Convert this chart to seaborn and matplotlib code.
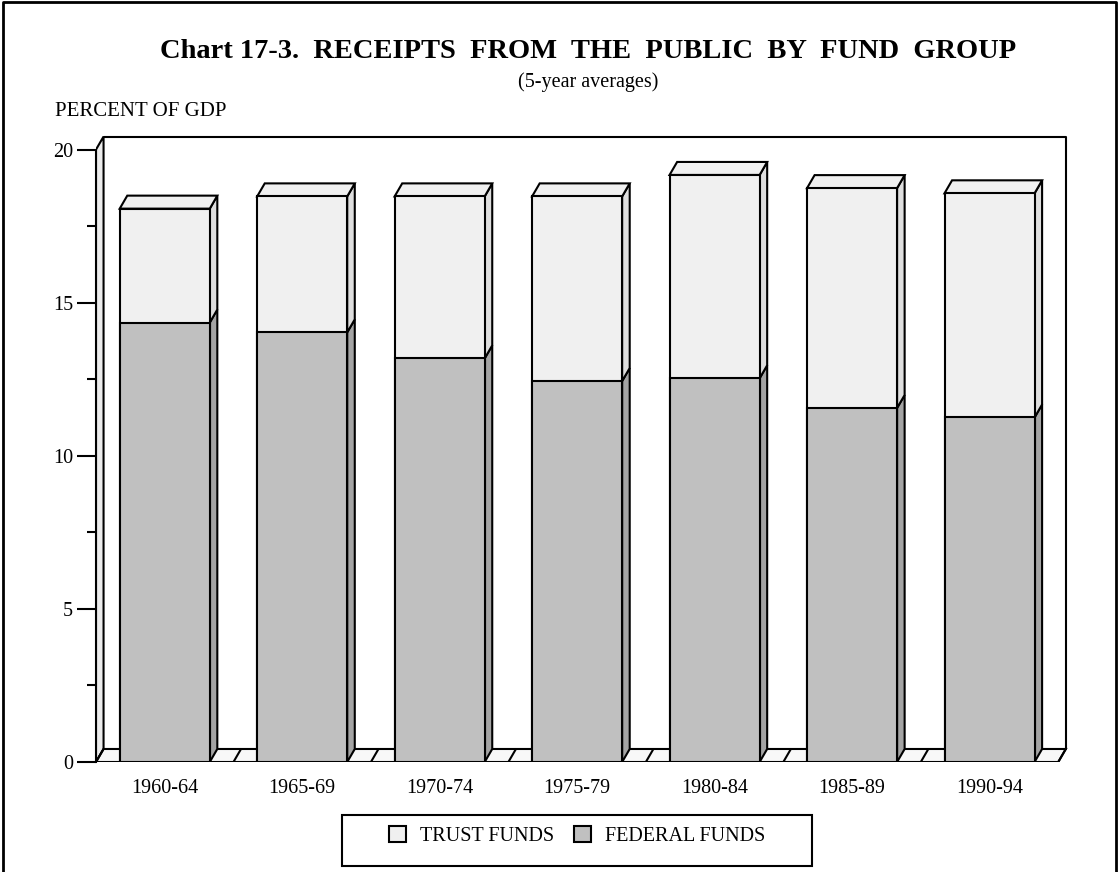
import numpy as np
import pandas as pd
import matplotlib.pyplot as plt
from matplotlib.patches import Polygon, Rectangle, Patch
import seaborn as sns

periods = ['1960-64', '1965-69', '1970-74', '1975-79', '1980-84', '1985-89', '1990-94']
federal = [14.35, 14.03, 13.18, 12.44, 12.53, 11.56, 11.25]
trust = [3.72, 4.44, 5.29, 6.03, 6.64, 7.18, 7.32]

df = pd.DataFrame({'period': periods, 'federal': federal, 'trust': trust})
df['total'] = df['federal'] + df['trust']

sns.set_theme(style='white')
plt.rcParams['font.family'] = ['Liberation Serif', 'DejaVu Serif']
plt.rcParams['text.color'] = 'black'
plt.rcParams['xtick.color'] = 'black'
plt.rcParams['ytick.color'] = 'black'

W, H = 1119, 872
fig = plt.figure(figsize=(W / 100, H / 100), dpi=100)
ax = fig.add_axes([96 / W, (H - 762) / H, (1072 - 96) / W, (762 - 135) / H])

# fake 3d depth, in data units
dx, dy = 0.055, 0.425
lw = 1.5
c_trust, c_trust_side = '#f0f0f0', '#dedede'
c_fed, c_fed_side = '#c0c0c0', '#a4a4a4'

# left wall, back wall, floor
ax.add_patch(Polygon([(-0.5, 0), (-0.5 + dx, dy), (-0.5 + dx, 20 + dy), (-0.5, 20)],
                     closed=True, fc='#ececec', ec='black', lw=lw, zorder=1))
ax.add_patch(Polygon([(-0.5, 0), (6.5, 0), (6.5 + dx, dy), (-0.5 + dx, dy)],
                     closed=True, fc='#f8f8f8', ec='black', lw=lw, zorder=1))
ax.plot([-0.5 + dx, 6.5 + dx, 6.5 + dx], [20 + dy, 20 + dy, dy], color='black', lw=lw, zorder=1,
        clip_on=False)
for k in range(8):
    ax.plot([k - 0.5, k - 0.5 + dx], [0, dy], color='black', lw=lw, zorder=1)

# front faces
sns.barplot(data=df, x='period', y='total', color=c_trust, saturation=1, width=0.655,
            edgecolor='black', linewidth=lw, ax=ax, zorder=3)
sns.barplot(data=df, x='period', y='federal', color=c_fed, saturation=1, width=0.655,
            edgecolor='black', linewidth=lw, ax=ax, zorder=3)

n = len(periods)
tot_bars, fed_bars = ax.containers[0], ax.containers[1]
for tot_bar, fed_bar in zip(tot_bars, fed_bars):
    x0 = tot_bar.get_x()
    x1 = x0 + tot_bar.get_width()
    top = tot_bar.get_height()
    mid = fed_bar.get_height()
    ax.add_patch(Polygon([(x1, 0), (x1 + dx, dy), (x1 + dx, mid + dy), (x1, mid)],
                         closed=True, fc=c_fed_side, ec='black', lw=lw, zorder=2.5))
    ax.add_patch(Polygon([(x1, mid), (x1 + dx, mid + dy), (x1 + dx, top + dy), (x1, top)],
                         closed=True, fc=c_trust_side, ec='black', lw=lw, zorder=2.5))
    ax.add_patch(Polygon([(x0, top), (x0 + dx, top + dy), (x1 + dx, top + dy), (x1, top)],
                         closed=True, fc=c_trust, ec='black', lw=lw, zorder=2.5))

ax.set_xlim(-0.5, 6.6)
ax.set_ylim(0, 20 + dy + 0.05)
for s in ['top', 'right', 'bottom']:
    ax.spines[s].set_visible(False)
ax.spines['left'].set_bounds(0, 20)
ax.spines['left'].set_linewidth(lw)
ax.spines['left'].set_color('black')
ax.set_yticks([0, 5, 10, 15, 20])
ax.set_yticks(np.arange(2.5, 20, 5), minor=True)
ax.tick_params(axis='y', which='major', length=13.5, width=lw, direction='out', left=True,
               labelsize=14.5, pad=3)
ax.tick_params(axis='y', which='minor', length=6.5, width=lw, direction='out', left=True)
ax.set_xticks(range(n))
ax.set_xticklabels(periods)
ax.tick_params(axis='x', length=0, labelsize=14.5, pad=12)
ax.set_xlabel('')
ax.set_ylabel('')

fig.text(588 / W, 1 - 51 / H, 'Chart 17-3.  RECEIPTS  FROM  THE  PUBLIC  BY  FUND  GROUP',
         ha='center', va='center', fontsize=20.5, fontweight='bold')
fig.text(588 / W, 1 - 82 / H, '(5-year averages)', ha='center', va='center', fontsize=14.5)
fig.text(55 / W, 1 - 112 / H, 'PERCENT OF GDP', ha='left', va='center', fontsize=15)

# legend box
fig.patches.append(Rectangle((342 / W, 1 - 866 / H), (812 - 342) / W, (866 - 815) / H,
                             transform=fig.transFigure, fc='white', ec='black', lw=lw))
handles = [Patch(fc=c_trust, ec='black', lw=lw, label='TRUST FUNDS'),
           Patch(fc=c_fed, ec='black', lw=lw, label='FEDERAL FUNDS')]
fig.legend(handles=handles, loc='center', bbox_to_anchor=(577 / W, 1 - 836 / H), ncol=2,
           frameon=False, fontsize=14.5, handlelength=0.85, handleheight=0.85,
           columnspacing=1.0, handletextpad=0.7)

# outer border
fig.lines.append(plt.Line2D([3 / W, 3 / W, 1116 / W, 1116 / W], [0, 1 - 2 / H, 1 - 2 / H, 0],
                            transform=fig.transFigure, color='black', lw=2))

fig.savefig('out.png', dpi=100)
